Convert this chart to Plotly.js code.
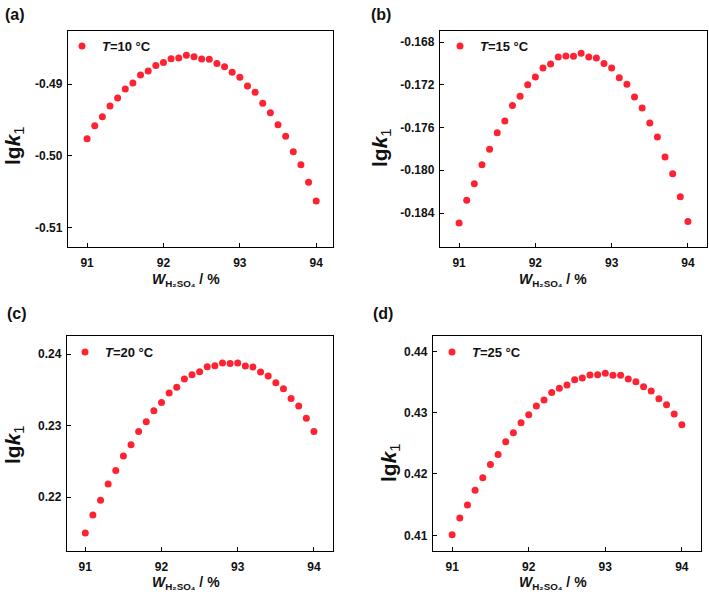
<!DOCTYPE html>
<html><head><meta charset="utf-8">
<script src="https://cdn.plot.ly/plotly-3.0.1.min.js"></script>
<style>body{margin:0;padding:0;background:#fff}#chart{width:709px;height:595px}</style>
</head><body><div id="chart"></div>
<script>
const W = [91.0,91.1,91.2,91.3,91.4,91.5,91.6,91.7,91.8,91.9,92.0,92.1,92.2,92.3,92.4,92.5,92.6,92.7,92.8,92.9,93.0,93.1,93.2,93.3,93.4,93.5,93.6,93.7,93.8,93.9,94.0];
const lgk10 = [-0.49763,-0.49581,-0.49456,-0.49307,-0.49195,-0.4907,-0.48986,-0.48874,-0.48819,-0.4874,-0.48698,-0.48647,-0.48637,-0.486,-0.48619,-0.48651,-0.48656,-0.48712,-0.48758,-0.48837,-0.48907,-0.49028,-0.49116,-0.4927,-0.494,-0.49567,-0.4973,-0.49944,-0.50126,-0.50372,-0.50633];
const lgk15 = [-0.18494,-0.18281,-0.18126,-0.17948,-0.17804,-0.17648,-0.17539,-0.17393,-0.17308,-0.17199,-0.17127,-0.17043,-0.17006,-0.1694,-0.16931,-0.16934,-0.16906,-0.1694,-0.1695,-0.17,-0.17043,-0.17134,-0.17196,-0.17315,-0.17418,-0.17558,-0.17689,-0.17876,-0.18032,-0.18247,-0.1848];
const lgk20 = [0.21501,0.21753,0.21958,0.22186,0.22373,0.22578,0.22732,0.22918,0.23054,0.23207,0.23324,0.23455,0.23538,0.2365,0.23711,0.23753,0.23823,0.23837,0.23874,0.23869,0.23874,0.23832,0.23818,0.23748,0.23692,0.23599,0.23515,0.2338,0.23273,0.23105,0.22918];
const lgk25 = [0.41011,0.41284,0.41496,0.41735,0.41937,0.42155,0.42318,0.42525,0.42672,0.42835,0.42966,0.43107,0.43205,0.4333,0.43396,0.4345,0.43537,0.43565,0.43613,0.43619,0.43641,0.43608,0.43608,0.43548,0.43505,0.43423,0.43352,0.43227,0.43129,0.42977,0.42802];
const series = [lgk10, lgk15, lgk20, lgk25];
const names = ['<b><i>T</i>=10 °C</b>','<b><i>T</i>=15 °C</b>','<b><i>T</i>=20 °C</b>','<b><i>T</i>=25 °C</b>'];
const xTicks = [91,92,93,94];
const yTicks = [[-0.51,-0.50,-0.49],[-0.184,-0.180,-0.176,-0.172,-0.168],[0.22,0.23,0.24],[0.41,0.42,0.43,0.44]];
const yTickText = [['-0.51','-0.50','-0.49'],['-0.184','-0.180','-0.176','-0.172','-0.168'],['0.22','0.23','0.24'],['0.41','0.42','0.43','0.44']];
const panelLabels = ['(a)','(b)','(c)','(d)'];

const PW = 709, PH = 595;
// pixel boxes [left,right,top,bottom]
const boxes = [[68,333,31,247],[440,707,31,247],[67,333,336,551],[433,701,336,551]];
const xRanges = [[90.75,94.22],[90.75,94.25],[90.76,94.25],[90.75,94.25]];
const yRanges = [[-0.51275,-0.4826],[-0.18718,-0.16697],[0.2125,0.24252],[0.40744,0.4425]];
const legPos = [[62,42],[440,42],[65,348],[432,348]];
const labPos = [[3,14],[369,14],[5,313],[371,313]];
const ytPos = [[14,146],[381,148],[14,445],[390,463]];
const xtPos = [[186,280],[553,280],[186,583],[553,583]];

const font = 'Arial, "Liberation Sans", sans-serif';
const data = [];
const layout = {width:PW,height:PH,margin:{l:0,r:0,t:0,b:0},paper_bgcolor:'#fff',plot_bgcolor:'#fff',annotations:[],font:{family:font,color:'#111'}};
for (let i=0;i<4;i++){
  const s = i===0?'':String(i+1);
  const leg = i===0?'legend':'legend'+(i+1);
  data.push({x:W,y:series[i],type:'scatter',mode:'markers',name:names[i],xaxis:'x'+s,yaxis:'y'+s,legend:leg,
    marker:{color:'#ff2233',size:7}});
  const b = boxes[i];
  const mk = () => ({showline:true,linecolor:'#000',linewidth:1.2,mirror:true,ticks:'inside',ticklen:4,tickwidth:1,tickcolor:'#000',showgrid:false,zeroline:false,
    tickfont:{family:font,size:12,color:'#111',weight:'bold'}});
  layout['xaxis'+s] = Object.assign(mk(),{domain:[b[0]/PW,b[1]/PW],range:xRanges[i],tickvals:xTicks,ticktext:xTicks.map(String),anchor:'y'+s,ticklabelstandoff:4});
  layout['yaxis'+s] = Object.assign(mk(),{domain:[1-b[3]/PH,1-b[2]/PH],range:yRanges[i],tickvals:yTicks[i],ticktext:yTickText[i],anchor:'x'+s,ticklabelstandoff:2});
  layout[leg] = {x:legPos[i][0]/PW,y:1-(legPos[i][1]-11)/PH,xanchor:'left',yanchor:'top',bgcolor:'rgba(0,0,0,0)',
    font:{family:font,size:13,color:'#111'},itemsizing:'trace'};
  layout.annotations.push({xref:'paper',yref:'paper',x:labPos[i][0]/PW,y:1-labPos[i][1]/PH,xanchor:'left',yanchor:'middle',showarrow:false,
    text:'<b>'+panelLabels[i]+'</b>',font:{family:font,size:16,color:'#111'}});
  layout.annotations.push({xref:'paper',yref:'paper',x:ytPos[i][0]/PW,y:1-ytPos[i][1]/PH,xanchor:'center',yanchor:'middle',showarrow:false,textangle:-90,
    text:'<b>lg<i>k</i></b><sub>1</sub>',font:{family:font,size:21,color:'#111'}});
  layout.annotations.push({xref:'paper',yref:'paper',x:xtPos[i][0]/PW,y:1-xtPos[i][1]/PH,xanchor:'center',yanchor:'middle',showarrow:false,
    text:'<b><i>W</i></b><sub><b>H₂SO₄</b></sub><b> / %</b>',font:{family:font,size:14,color:'#111'}});
}
layout.showlegend = true;
Plotly.newPlot('chart',data,layout,{staticPlot:true});
</script></body></html>
